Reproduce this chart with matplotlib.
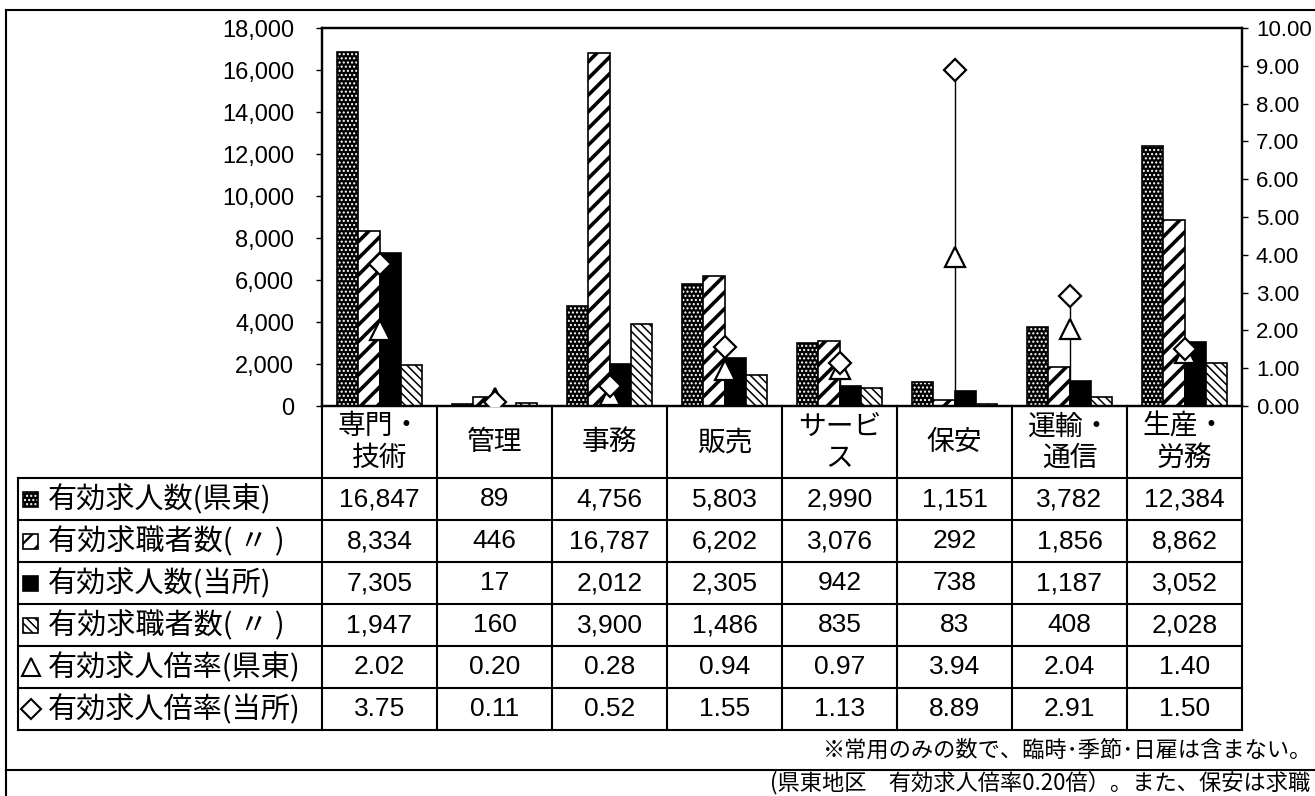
import matplotlib
matplotlib.use('Agg')
import matplotlib.pyplot as plt
from matplotlib import font_manager
from matplotlib.patches import Rectangle
import numpy as np

# ---------------- data ----------------
categories = ['専門・\n技術', '管理', '事務', '販売', 'サービ\nス', '保安', '運輸・\n通信', '生産・\n労務']
row_labels = ['有効求人数(県東)', '有効求職者数( 〃 )', '有効求人数(当所)',
              '有効求職者数( 〃 )', '有効求人倍率(県東)', '有効求人倍率(当所)']
jobs_kento = [16847, 89, 4756, 5803, 2990, 1151, 3782, 12384]
seekers_kento = [8334, 446, 16787, 6202, 3076, 292, 1856, 8862]
jobs_tousho = [7305, 17, 2012, 2305, 942, 738, 1187, 3052]
seekers_tousho = [1947, 160, 3900, 1486, 835, 83, 408, 2028]
ratio_kento = [2.02, 0.20, 0.28, 0.94, 0.97, 3.94, 2.04, 1.40]
ratio_tousho = [3.75, 0.11, 0.52, 1.55, 1.13, 8.89, 2.91, 1.50]
left_ticks = [0, 2000, 4000, 6000, 8000, 10000, 12000, 14000, 16000, 18000]
right_ticks = [0, 1, 2, 3, 4, 5, 6, 7, 8, 9, 10]
footnote = '※常用のみの数で、臨時･季節･日雇は含まない。'
cut_text = '(県東地区　有効求人倍率0.20倍）。また、保安は求職'

# ---------------- fonts ----------------
installed = {f.name for f in font_manager.fontManager.ttflist}
NUM = 'Liberation Sans Narrow' if 'Liberation Sans Narrow' in installed else 'Liberation Sans'
CJK = 'Noto Sans CJK JP'
plt.rcParams['font.family'] = [NUM, CJK, 'DejaVu Sans']
plt.rcParams['hatch.linewidth'] = 1.6

W, H = 1315, 796
fig = plt.figure(figsize=(W / 100, H / 100), dpi=100)
fig.patch.set_facecolor('white')

def fx(px):
    return px / W

def fy(py):
    return 1 - py / H

PL, PR, PT, PB = 322, 1242, 28, 406
ax = fig.add_axes([fx(PL), fy(PB), fx(PR) - fx(PL), fy(PT) - fy(PB)])
ax.set_xlim(-0.5, len(categories) - 0.5)
ax.set_ylim(0, 18000)
ax2 = ax.twinx()
ax2.set_ylim(0, 10)

x = np.arange(len(categories))
w = 0.183
offs = np.array([-1.5, -0.5, 0.5, 1.5]) * w


def hatch_lw(artists, lw):
    for a in artists:
        if hasattr(a, 'set_hatch_linewidth'):
            a.set_hatch_linewidth(lw)


# series 1: dark dotted
b = ax.bar(x + offs[0], jobs_kento, w, color='black', edgecolor='white', hatch='....', lw=0)
hatch_lw(b, 1.0)
ax.bar(x + offs[0], jobs_kento, w, fill=False, edgecolor='black', lw=1.2)
# series 2: forward diagonal
b = ax.bar(x + offs[1], seekers_kento, w, color='white', edgecolor='black', hatch='//', lw=1.2)
hatch_lw(b, 2.6)
# series 3: solid black
ax.bar(x + offs[2], jobs_tousho, w, color='black', edgecolor='black', lw=1.2)
# series 4: dense back diagonal
b = ax.bar(x + offs[3], seekers_tousho, w, color='white', edgecolor='black', hatch='\\\\\\\\', lw=1.2)
hatch_lw(b, 1.1)

# ratio markers (right axis)
ax2.vlines(x, 0, np.maximum(ratio_kento, ratio_tousho), color='black', lw=1.0, zorder=2)
ax2.plot(x, ratio_kento, ls='none', marker='^', ms=15, mfc='white', mec='black', mew=1.6, zorder=3)
ax2.plot(x, ratio_tousho, ls='none', marker='D', ms=11, mfc='white', mec='black', mew=1.6, zorder=3)

# axes styling
ax.set_xticks([])
ax.set_yticks(left_ticks)
ax.set_yticklabels([f'{v:,}' for v in left_ticks], fontsize=17, family=[NUM])
ax.tick_params(axis='y', direction='out', length=4, width=1, pad=16)
ax2.set_yticks(right_ticks)
ax2.set_yticklabels([f'{v:.2f}' for v in right_ticks], fontsize=16, family=[NUM])
ax2.tick_params(axis='y', direction='out', length=4, width=1, pad=6)
for a in (ax, ax2):
    for s in a.spines.values():
        s.set_linewidth(1.6)

# ---------------- table ----------------
TL, TB = 18, 730
tax = fig.add_axes([fx(TL), fy(TB), fx(PR) - fx(TL), fy(PB) - fy(TB)])
tax.axis('off')
colw = (PR - PL) / len(categories)
xleft = -0.5 - (PL - TL) / colw
rowh = 42
hh = 72 / rowh
nrows = len(row_labels)
tax.set_xlim(xleft, len(categories) - 0.5)
tax.set_ylim(hh + nrows, 0)

lk = dict(color='black', lw=1.5, clip_on=False, solid_capstyle='projecting')
for i in range(len(categories) + 1):
    tax.plot([i - 0.5, i - 0.5], [0, hh + nrows], **lk)
tax.plot([xleft, xleft], [hh, hh + nrows], **lk)
for k in range(nrows + 1):
    tax.plot([xleft, len(categories) - 0.5], [hh + k, hh + k], **lk)

for i, c in enumerate(categories):
    tax.text(i, hh / 2, c, ha='center', va='center', fontsize=20,
             family=[CJK], linespacing=1.05)

table_rows = [
    [f'{v:,}' for v in jobs_kento],
    [f'{v:,}' for v in seekers_kento],
    [f'{v:,}' for v in jobs_tousho],
    [f'{v:,}' for v in seekers_tousho],
    [f'{v:.2f}' for v in ratio_kento],
    [f'{v:.2f}' for v in ratio_tousho],
]
for k, row in enumerate(table_rows):
    for i, t in enumerate(row):
        tax.text(i, hh + k + 0.5, t, ha='center', va='center', fontsize=19, family=[NUM])
    tax.text(xleft + 0.26, hh + k + 0.52, row_labels[k], ha='left', va='center',
             fontsize=21, family=[CJK, NUM])

# legend keys in row labels
sw, sh = 15 / colw, 15 / rowh
sx = xleft + 0.045
def key_rect(k, **kw):
    r = Rectangle((sx, hh + k + 0.5 - sh / 2), sw, sh, clip_on=False, **kw)
    tax.add_patch(r)
    return r

r = key_rect(0, facecolor='black', edgecolor='white', hatch='....', lw=0)
hatch_lw([r], 1.0)
key_rect(0, fill=False, edgecolor='black', lw=1.2)
r = key_rect(1, facecolor='white', edgecolor='black', hatch='//', lw=1.2)
hatch_lw([r], 1.6)
key_rect(2, facecolor='black', edgecolor='black', lw=1.2)
r = key_rect(3, facecolor='white', edgecolor='black', hatch='\\\\\\\\', lw=1.2)
hatch_lw([r], 1.1)
tax.plot([sx + sw / 2], [hh + 4.5], marker='^', ms=13, mfc='white', mec='black', mew=1.5, clip_on=False)
tax.plot([sx + sw / 2], [hh + 5.5], marker='D', ms=10, mfc='white', mec='black', mew=1.5, clip_on=False)

# ---------------- frame & notes ----------------
fl = dict(color='black', lw=1.5, transform=fig.transFigure)
fig.add_artist(plt.Line2D([fx(6), fx(6)], [fy(10), fy(796)], **fl))
fig.add_artist(plt.Line2D([fx(6), fx(1315)], [fy(10), fy(10)], **fl))
fig.add_artist(plt.Line2D([fx(6), fx(1315)], [fy(770), fy(770)], **fl))
fig.text(fx(1312), fy(750), footnote, ha='right', va='center', fontsize=16, family=[CJK])
fig.text(fx(1310), fy(794), cut_text, ha='right', va='bottom', fontsize=16, family=[CJK])

fig.savefig('out.png', dpi=100, facecolor='white')
